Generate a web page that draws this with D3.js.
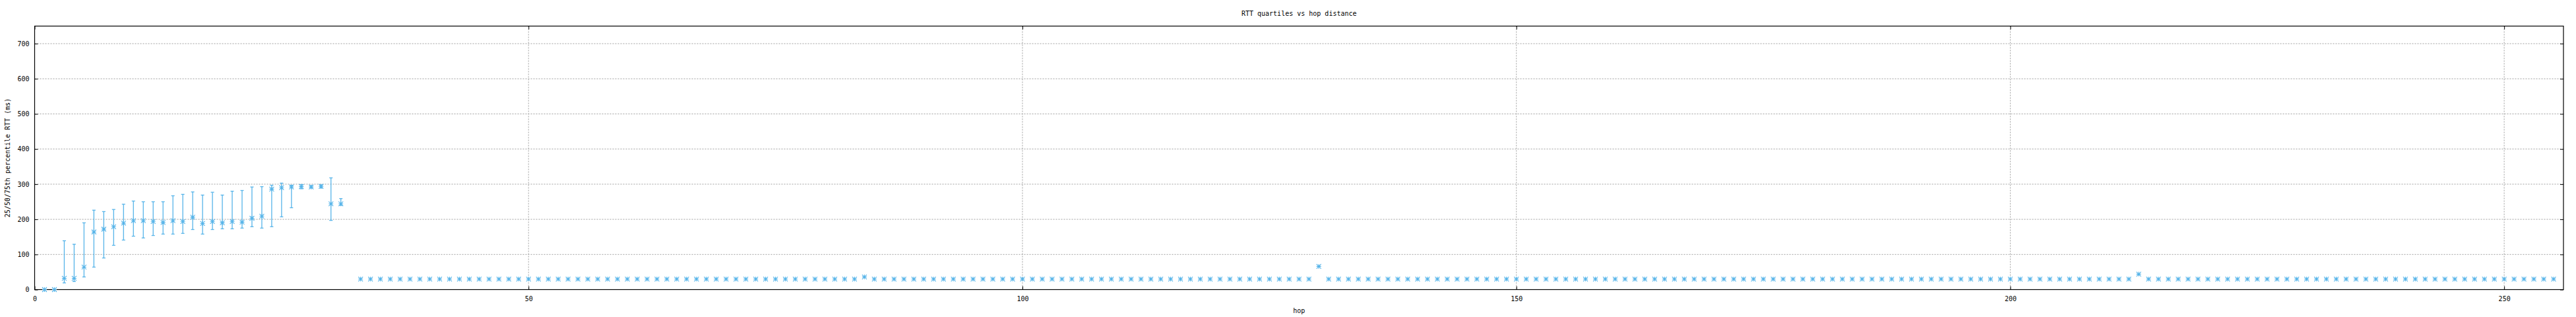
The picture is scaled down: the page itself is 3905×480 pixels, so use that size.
<!DOCTYPE html>
<html>
<head>
<meta charset="utf-8">
<script src="https://cdn.jsdelivr.net/npm/d3@7"></script>
<style>
  body { margin: 0; background: #fff; }
  text { font-family: "DejaVu Sans Mono", monospace; font-size: 10px; fill: #000; }
</style>
</head>
<body>
<div id="chart"></div>
<script>
// hops with a measured spread (first part of the path)
var headHops = [1, 2, 3, 4, 5, 6, 7, 8, 9, 10, 11, 12, 13, 14, 15, 16, 17, 18, 19, 20, 21, 22, 23, 24, 25, 26, 27, 28, 29, 30, 31];
var headMedian = [0, 0, 32, 32, 64, 164, 172, 179, 189, 196, 196, 194, 191, 196, 194, 206, 188, 194, 190, 194, 192, 203, 209, 286, 290, 292, 293, 292, 294, 244, 244];
var headQ1 = [0, 0, 19, 23, 36, 64, 90, 126, 141, 152, 147, 154, 158, 158, 160, 171, 158, 171, 173, 173, 175, 179, 175, 179, 207, 233, 287, 289, 289, 197, 240];
var headQ3 = [0, 0, 139, 129, 190, 226, 222, 228, 243, 252, 250, 250, 250, 267, 271, 278, 269, 277, 269, 280, 282, 292, 293, 297, 303, 297, 299, 296, 298, 318, 259];

// hops 33..255, medians only (spread too small to see)
var tailFirstHop = 33;
var tailMedian = [
  30, 30, 30, 30, 30, 30, 30, 30, 30, 30, 30, 30, 30, 30, 30, 30, 30, 30, 30, 30,
  30, 30, 30, 30, 30, 30, 30, 30, 30, 30, 30, 30, 30, 30, 30, 30, 30, 30, 30, 30,
  30, 30, 30, 30, 30, 30, 30, 30, 30, 30, 30, 36, 30, 30, 30, 30, 30, 30, 30, 30,
  30, 30, 30, 30, 30, 30, 30, 30, 30, 30, 30, 30, 30, 30, 30, 30, 30, 30, 30, 30,
  30, 30, 30, 30, 30, 30, 30, 30, 30, 30, 30, 30, 30, 30, 30, 30, 30, 66, 30, 30,
  30, 30, 30, 30, 30, 30, 30, 30, 30, 30, 30, 30, 30, 30, 30, 30, 30, 30, 30, 30,
  30, 30, 30, 30, 30, 30, 30, 30, 30, 30, 30, 30, 30, 30, 30, 30, 30, 30, 30, 30,
  30, 30, 30, 30, 30, 30, 30, 30, 30, 30, 30, 30, 30, 30, 30, 30, 30, 30, 30, 30,
  30, 30, 30, 30, 30, 30, 30, 30, 30, 30, 30, 30, 30, 30, 30, 30, 30, 30, 30, 30,
  44, 30, 30, 30, 30, 30, 30, 30, 30, 30, 30, 30, 30, 30, 30, 30, 30, 30, 30, 30,
  30, 30, 30, 30, 30, 30, 30, 30, 30, 30, 30, 30, 30, 30, 30, 30, 30, 30, 30, 30,
  30, 30, 30
];

var xTicks = [0, 50, 100, 150, 200, 250];
var yTicks = [0, 100, 200, 300, 400, 500, 600, 700];

var chartTitle = "RTT quartiles vs hop distance";
var xLabel = "hop";
var yLabel = "25/50/75th percentile RTT (ms)";

var color = "#56b4e9";
var margin = {top: 39.5, right: 19, bottom: 41.5, left: 52.5},
    width = 3905 - margin.left - margin.right,
    height = 480 - margin.top - margin.bottom;

var points = [];
headHops.forEach(function (h, i) {
    points.push({hop: h, med: headMedian[i], q1: headQ1[i], q3: headQ3[i]});
});
tailMedian.forEach(function (v, i) {
    points.push({hop: tailFirstHop + i, med: v, q1: v, q3: v});
});

var x = d3.scaleLinear().domain([0, 256]).range([0, width]);
var y = d3.scaleLinear().domain([0, 750]).range([height, 0]);

var svg = d3.select("#chart")
        .append("svg")
        .attr("width", 3905)
        .attr("height", 480);

var canvas = svg.append("g")
        .attr("transform", "translate(" + margin.left + "," + margin.top + ")");

// grid
canvas.append("g")
        .selectAll("line")
        .data(yTicks.filter(function (d) { return d > 0; }))
        .enter()
        .append("line")
        .attr("x1", 0).attr("x2", width)
        .attr("y1", function (d) { return y(d); })
        .attr("y2", function (d) { return y(d); })
        .attr("stroke", "#a0a0a0")
        .attr("stroke-dasharray", "2,2");
canvas.append("g")
        .selectAll("line")
        .data(xTicks.filter(function (d) { return d > 0; }))
        .enter()
        .append("line")
        .attr("x1", function (d) { return x(d); })
        .attr("x2", function (d) { return x(d); })
        .attr("y1", 0).attr("y2", height)
        .attr("stroke", "#a0a0a0")
        .attr("stroke-dasharray", "2,2");

// axes (inward ticks, mirrored)
var axB = canvas.append("g")
        .attr("transform", "translate(0," + height + ")")
        .call(d3.axisBottom(x).tickValues(xTicks).tickSize(-5).tickPadding(10));
var axT = canvas.append("g")
        .call(d3.axisTop(x).tickValues(xTicks).tickSize(-5).tickFormat(""));
var axL = canvas.append("g")
        .call(d3.axisLeft(y).tickValues(yTicks).tickSize(-5).tickPadding(8));
var axR = canvas.append("g")
        .attr("transform", "translate(" + width + ",0)")
        .call(d3.axisRight(y).tickValues(yTicks).tickSize(-5).tickFormat(""));
[axB, axT, axL, axR].forEach(function (a) {
    a.select(".domain").remove();
    a.selectAll("line").attr("stroke", "#000");
    a.selectAll("text").style("font-family", "DejaVu Sans Mono").style("font-size", "10px").attr("fill", "#000");
});

canvas.append("rect")
        .attr("width", width)
        .attr("height", height)
        .attr("fill", "none")
        .attr("stroke", "#000")
        .attr("stroke-width", 1.2);

// error bars
var bars = points.filter(function (d) { return d.q3 > d.q1; });
var cap = 2.5;
var eb = canvas.append("g")
        .attr("stroke", color)
        .attr("stroke-width", 1.3)
        .attr("fill", "none");
eb.selectAll(".v").data(bars).enter().append("line")
        .attr("x1", function (d) { return x(d.hop); })
        .attr("x2", function (d) { return x(d.hop); })
        .attr("y1", function (d) { return y(d.q1); })
        .attr("y2", function (d) { return y(d.q3); });
eb.selectAll(".lo").data(bars).enter().append("line")
        .attr("x1", function (d) { return x(d.hop) - cap; })
        .attr("x2", function (d) { return x(d.hop) + cap; })
        .attr("y1", function (d) { return y(d.q1); })
        .attr("y2", function (d) { return y(d.q1); });
eb.selectAll(".hi").data(bars).enter().append("line")
        .attr("x1", function (d) { return x(d.hop) - cap; })
        .attr("x2", function (d) { return x(d.hop) + cap; })
        .attr("y1", function (d) { return y(d.q3); })
        .attr("y2", function (d) { return y(d.q3); });

// asterisk markers (+ and x)
function star(r) {
    var p = d3.path();
    p.moveTo(-r, 0); p.lineTo(r, 0);
    p.moveTo(0, -r); p.lineTo(0, r);
    p.moveTo(-r, -r); p.lineTo(r, r);
    p.moveTo(-r, r); p.lineTo(r, -r);
    return p.toString();
}
canvas.append("g")
        .selectAll("path")
        .data(points)
        .enter()
        .append("path")
        .attr("d", star(3.5))
        .attr("transform", function (d) { return "translate(" + x(d.hop) + "," + y(d.med) + ")"; })
        .attr("stroke", color)
        .attr("stroke-width", 1.1)
        .attr("fill", "none");

// labels
svg.append("text")
        .attr("x", margin.left + width / 2)
        .attr("y", 24)
        .attr("text-anchor", "middle")
        .text(chartTitle);
svg.append("text")
        .attr("x", margin.left + width / 2)
        .attr("y", 474)
        .attr("text-anchor", "middle")
        .text(xLabel);
svg.append("text")
        .attr("transform", "translate(15," + (margin.top + height / 2) + ") rotate(-90)")
        .attr("text-anchor", "middle")
        .text(yLabel);
</script>
</body>
</html>
